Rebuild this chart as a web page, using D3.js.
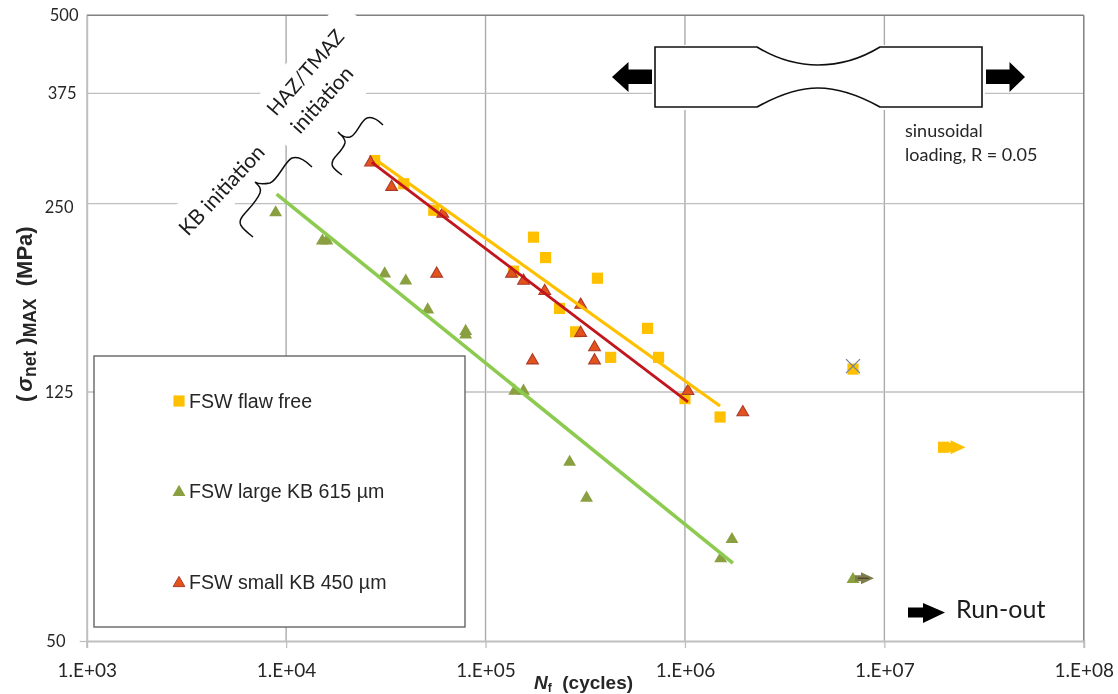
<!DOCTYPE html>
<html><head><meta charset="utf-8">
<style>html,body{margin:0;padding:0;background:#fff}svg{display:block}</style>
<script src="https://d3js.org/d3.v7.min.js"></script></head><body>
<script>
// ---- data ----
const xTickValues = [1e3,1e4,1e5,1e6,1e7,1e8];
const xTickLabels = ["1.E+03","1.E+04","1.E+05","1.E+06","1.E+07","1.E+08"];
const yTickValues = [500,375,250,125,50];
const flawN  = [27800,38900,55000,138000,174000,200000,364000,235000,283000,649000,424000,737000,1000000,1500000,6960000,19800000];
const flawS  = [293,269,244,195,221,205,190,170,156,158,142,142,122,114,136,102];
const largeN = [8860,15200,16000,31200,39800,51300,79500,79500,140000,155000,264000,321000,1510000,1720000,6960000];
const largeS = [243,219,219,194,189,170,157,155,126,126,97,85,68,73,63];
const smallN = [26500,33800,61000,56900,135000,155000,198000,300000,300000,352000,352000,172000,1035000,1950000];
const smallS = [292,267,242,194,194,189,182,173,156,148,141,141,126,116.5];
const fitFlawN  = [27500,1500000];  const fitFlawS  = [295.5,118.7];
const fitSmallN = [26900,1035000];  const fitSmallS = [291,120.5];
const fitLargeN = [8960,1740000];   const fitLargeS = [259,66.6];
const legendLabels = ["FSW flaw free","FSW large KB 615 µm","FSW small KB 450 µm"];
const runoutFlawN = [19800000], runoutFlawS = [102];
const runoutLargeN = [6960000], runoutLargeS = [63];
const crossedN = [6960000], crossedS = [137.5];

const W=1118,H=694;
const YEL="#FFC000",GRN="#8A9F40",RED="#E5521B",REDE="#A93B2B";
const GRID="#BFBFBF";
const x=d3.scaleLog().domain([1e3,1e8]).range([86.7,1083.8]);
const y=d3.scaleLog().domain([50,500]).range([641,15.3]);

const svg=d3.select("body").append("svg").attr("width",W).attr("height",H)
  .style("font-family","Lato");
svg.append("defs").append("filter").attr("id","soft").attr("x","-2%").attr("y","-2%").attr("width","104%").attr("height","104%")
  .append("feGaussianBlur").attr("stdDeviation",0.5);
const g=svg.append("g").attr("filter","url(#soft)");
g.append("rect").attr("width",W).attr("height",H).attr("fill","#fff");

// grid
g.append("g").selectAll("line").data(xTickValues.slice(1,-1)).join("line")
  .attr("x1",d=>x(d)).attr("x2",d=>x(d)).attr("y1",y(500)).attr("y2",y(50))
  .attr("stroke","#ABABAB").attr("stroke-width",1.4);
g.append("g").selectAll("line").data([375,250,125]).join("line")
  .attr("x1",x(1e3)).attr("x2",x(1e8)).attr("y1",d=>y(d)).attr("y2",d=>y(d))
  .attr("stroke",GRID).attr("stroke-width",1.3);
// frame
g.append("line").attr("x1",x(1e3)).attr("x2",x(1e8)).attr("y1",y(500)).attr("y2",y(500)).attr("stroke","#808080").attr("stroke-width",1.6);
g.append("line").attr("x1",x(1e8)).attr("x2",x(1e8)).attr("y1",y(500)).attr("y2",y(50)).attr("stroke","#808080").attr("stroke-width",1.5);

// axes
const ax=d3.axisBottom(x).tickValues(xTickValues).tickFormat((d,i)=>xTickLabels[i]).tickSize(7).tickPadding(15.5);
const gx=g.append("g").attr("transform",`translate(0,${y(50)})`).call(ax);
const ay=d3.axisLeft(y).tickValues(yTickValues).tickFormat(d=>d).tickSize(0).tickPadding(9);
const gy=g.append("g").attr("transform",`translate(${x(1e3)},0)`).call(ay);
[gx,gy].forEach(a=>{a.select(".domain").attr("stroke",GRID).attr("stroke-width",2);
  a.selectAll("text").attr("fill","#262626").style("font-family","Lato");
  a.selectAll("line").attr("stroke",GRID).attr("stroke-width",1.3);});
gx.selectAll("text").style("font-size","19px");
gy.selectAll("text").style("font-size","16.5px");
gy.selectAll(".tick").filter(d=>d===50).select("line").attr("x2",-7);
const yEnd={500:78,375:76,250:73,125:73,50:65};
gy.selectAll(".tick text").attr("x",d=>yEnd[d]-x(1e3)+0.5);
gy.selectAll(".tick").filter(d=>d===250).select("text").attr("dy","0.55em");

// white backing for rotated labels
g.append("rect").attr("x",-72).attr("y",-40).attr("width",144).attr("height",80).attr("fill","#fff").attr("transform","translate(323,82) rotate(-49)");
g.append("rect").attr("x",-64).attr("y",-21).attr("width",128).attr("height",42).attr("fill","#fff").attr("transform","translate(219,190) rotate(-47)");

// legend
const lg=g.append("g");
lg.append("rect").attr("x",94).attr("y",356).attr("width",371).attr("height",271).attr("fill","#fff").attr("stroke","#595959").attr("stroke-width",1.3);

const sq=d3.symbol().type(d3.symbolSquare).size(125)();
const tri=d3.symbol().type(d3.symbolTriangle).size(72)();
const triR=d3.symbol().type(d3.symbolTriangle).size(60)();

function sym(data,path,fill,stroke,dy){
  g.append("g").selectAll("path").data(data).join("path").attr("d",path)
   .attr("transform",d=>`translate(${x(d[0])},${y(d[1])+(dy||0)})`)
   .attr("fill",fill).attr("stroke",stroke||"none").attr("stroke-width",stroke?1.1:0);
}
const zip=(a,b)=>a.map((v,i)=>[v,b[i]]);

// run-out arrows
g.selectAll(".ry").data(zip(runoutFlawN,runoutFlawS)).join("path").attr("class","ry")
  .attr("d","M0,-4.5H7V-7L22,0L7,7V4.5H0Z").attr("fill",YEL)
  .attr("transform",d=>`translate(${x(d[0])},${y(d[1])})`);

sym(zip(flawN,flawS),sq,YEL);
sym(zip(largeN,largeS),tri,GRN,null,1.2);
sym(zip(smallN,smallS),triR,RED,REDE,1.2);

g.selectAll(".rg").data(zip(runoutLargeN,runoutLargeS)).join("path").attr("class","rg")
  .attr("d","M2,-3H8V-6L21,0L8,6V3H2Z").attr("fill","#7F7C4C")
  .attr("transform",d=>`translate(${x(d[0])},${y(d[1])})`);
g.selectAll(".rl").data(zip(runoutLargeN,runoutLargeS)).join("line").attr("class","rl")
  .attr("x1",d=>x(d[0])+5).attr("x2",d=>x(d[0])+16).attr("y1",d=>y(d[1])).attr("y2",d=>y(d[1]))
  .attr("stroke","#3d3320").attr("stroke-width",1);
g.selectAll(".xx").data(zip(crossedN,crossedS)).join("path").attr("class","xx")
  .attr("d","M-7,-7L7,7M7,-7L-7,7").attr("fill","none").attr("stroke","#6F82A0").attr("stroke-width",1.3)
  .attr("transform",d=>`translate(${x(d[0])},${y(d[1])})`);

// fit lines
const ln=d3.line().x(d=>x(d[0])).y(d=>y(d[1]));
g.append("path").attr("d",ln(zip(fitFlawN,fitFlawS))).attr("stroke",YEL).attr("stroke-width",3.2).attr("fill","none");
g.append("path").attr("d",ln(zip(fitSmallN,fitSmallS))).attr("stroke","#C0121C").attr("stroke-width",2.8).attr("fill","none");
g.append("path").attr("d",ln(zip(fitLargeN,fitLargeS))).attr("stroke","#8CCB50").attr("stroke-width",3.6).attr("fill","none");

// legend rows
const legY=[401,491,582];
const legMark=[[sq,YEL,null,0],[tri,GRN,null,1.2],[triR,RED,REDE,1.2]];
legendLabels.forEach((t,i)=>{
  g.append("path").attr("d",legMark[i][0]).attr("transform",`translate(179,${legY[i]+legMark[i][3]})`).attr("fill",legMark[i][1]).attr("stroke",legMark[i][2]||"none");
  g.append("text").attr("x",189).attr("y",legY[i]+6.5).text(t).style("font-family","Liberation Sans").style("font-size","19.6px").attr("fill","#262626");
});

// axis titles
const xt=g.append("text").attr("x",534).attr("y",688.5).style("font-family","Liberation Sans").style("font-size","19px").style("font-weight","bold").attr("fill","#262626").style("white-space","pre");
xt.append("tspan").text("N").style("font-style","italic");
xt.append("tspan").text("f").attr("dy",3).style("font-size","12px");
xt.append("tspan").text("  (cycles)").attr("dy",-3);

const yt=g.append("text").attr("transform","translate(32,402) rotate(-90)").style("font-family","Liberation Sans").style("font-size","22px").style("font-weight","bold").attr("fill","#262626").style("white-space","pre");
yt.append("tspan").text("(");
yt.append("tspan").text("σ").style("font-style","italic").attr("dx",3);
yt.append("tspan").text("net").attr("dy",4).style("font-size","17.5px");
yt.append("tspan").text(" )").attr("dy",-4);
yt.append("tspan").text("MAX").attr("dy",4).style("font-size","17.5px");
yt.append("tspan").text("  (MPa)").attr("dy",-4);

// specimen drawing
g.append("rect").attr("x",652).attr("y",45).attr("width",333).attr("height",65).attr("fill","#fff");
g.append("path").attr("d","M655,47H757C775,58 797,65 818,65C840,65 862,58 880,47H982V107H880C862,97 840,88 818,88C797,88 775,97 757,107H655Z")
  .attr("fill","#fff").attr("stroke","#111").attr("stroke-width",1.6);
g.append("path").attr("d","M652,69.5H628.5V62L612,77L628.5,92V84H652Z").attr("fill","#000");
g.append("path").attr("d","M986,69.5H1009.5V62L1025,77L1009.5,92V84H986Z").attr("fill","#000");
g.append("text").attr("x",905).attr("y",137).text("sinusoidal").style("font-size","18px").attr("fill","#262626");
g.append("text").attr("x",905).attr("y",160.5).text("loading, R = 0.05").style("font-size","18px").attr("fill","#262626");

// initiation annotations
g.append("text").attr("transform","translate(188,237) rotate(-47)").text("KB initiation").style("font-size","21px").attr("fill","#1a1a1a");
g.append("text").attr("transform","translate(276,117) rotate(-49)").text("HAZ/TMAZ").style("font-size","20px").attr("fill","#1a1a1a");
g.append("text").attr("transform","translate(300,135) rotate(-48)").text("initiation").style("font-size","21px").attr("fill","#1a1a1a");
g.append("path").attr("d","M312,167C305,160 298,156 292,158C285,161 278,180 270,183C265,184 258,184 255,182C258,185 262,188 260,193C256,203 246,211 242,217C238,223 239,226 253,237")
  .attr("fill","none").attr("stroke","#111").attr("stroke-width",1.5);
g.append("path").attr("d","M383,125C378,120 373,116 367,118C360,121 357,135 350,137C346,138 341,136 338,132C341,135 346,139 345,143C343,150 336,155 333,160C331,165 331,167 342,175")
  .attr("fill","none").attr("stroke","#111").attr("stroke-width",1.5);

// run-out key
g.append("path").attr("d","M908,607.5H923V603L945,612.5L923,623V617.5H908Z").attr("fill","#000");
g.append("text").attr("x",956).attr("y",618).text("Run-out").style("font-size","25px").attr("fill","#1a1a1a");
</script></body></html>
